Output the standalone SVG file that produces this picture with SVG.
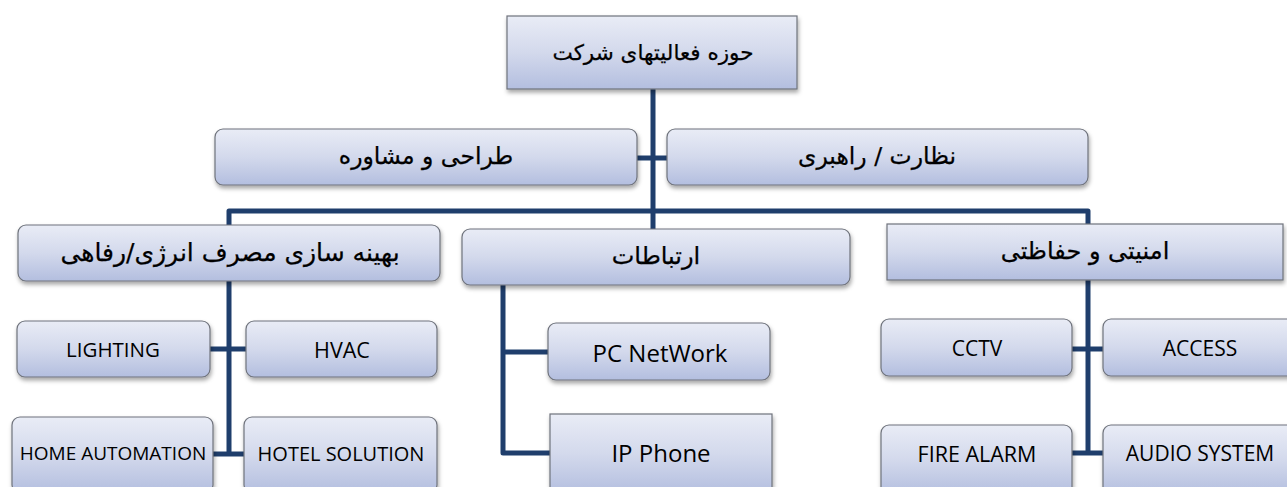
<svg xmlns="http://www.w3.org/2000/svg" width="1287" height="487" viewBox="0 0 1287 487">
<defs>
<linearGradient id="g" x1="0" y1="0" x2="0" y2="1">
<stop offset="0" stop-color="#e9ecf6"/>
<stop offset="0.5" stop-color="#d3d9ec"/>
<stop offset="1" stop-color="#b3bedf"/>
</linearGradient>
<filter id="sh" x="-10%" y="-20%" width="120%" height="160%">
<feDropShadow dx="1" dy="3" stdDeviation="2" flood-color="#000" flood-opacity="0.35"/>
</filter>
</defs>
<style>
.b{fill:url(#g);stroke:#6f737c;stroke-width:1.2;filter:url(#sh)}
.fa{font-family:"DejaVu Sans",sans-serif;fill:#000;stroke:#000;stroke-width:0.25;text-anchor:middle;dominant-baseline:central;direction:rtl}
.en{font-family:"Open Sans","Liberation Sans",sans-serif;fill:#000;text-anchor:middle;dominant-baseline:central}
.c{stroke:#1f3e6c;stroke-width:5;fill:none;stroke-linejoin:round}
</style>
<rect width="1287" height="487" fill="#fff"/>
<g id="connectors">
<path class="c" d="M653 89 V229"/>
<path class="c" d="M637 158 H667"/>
<path class="c" d="M229 229 V211 H1088 V224"/>
<path class="c" d="M229 281 V454"/>
<path class="c" d="M210 349 H246"/>
<path class="c" d="M213 454 H244"/>
<path class="c" d="M503 285 V453 H550"/>
<path class="c" d="M503 352 H548"/>
<path class="c" d="M1088 280 V453"/>
<path class="c" d="M1072 349 H1103"/>
<path class="c" d="M1072 453 H1103"/>
</g>
<g id="root"><rect class="b" x="507" y="16" width="290" height="73"/><text class="fa" x="653" y="52" font-size="21.5">حوزه فعالیتهای شرکت</text></g>
<g id="design"><rect class="b" x="215" y="129" width="422" height="56" rx="8"/><text class="fa" x="426" y="156" font-size="23.5">طراحی و مشاوره</text></g>
<g id="supervision"><rect class="b" x="667" y="129" width="421" height="56" rx="8"/><text class="fa" x="877" y="156" font-size="23.5">نظارت / راهبری</text></g>
<g id="energy"><rect class="b" x="18" y="225" width="422" height="56" rx="8"/><text class="fa" x="230" y="252" font-size="25">بهینه سازی مصرف انرژی/رفاهی</text></g>
<g id="comm"><rect class="b" x="462" y="229" width="388" height="56" rx="8"/><text class="fa" x="656" y="256" font-size="24">ارتباطات</text></g>
<g id="security"><rect class="b" x="887" y="224" width="396" height="56"/><text class="fa" x="1085" y="251" font-size="24">امنیتی و حفاظتی</text></g>
<g id="lighting"><rect class="b" x="17" y="321" width="193" height="56" rx="8"/><text class="en" x="113" y="349" font-size="20.5">LIGHTING</text></g>
<g id="hvac"><rect class="b" x="246" y="321" width="191" height="56" rx="8"/><text class="en" x="342" y="349" font-size="21.5">HVAC</text></g>
<g id="home"><rect class="b" x="12" y="417" width="201" height="76" rx="8"/><text class="en" x="113" y="453" font-size="19">HOME AUTOMATION</text></g>
<g id="hotel"><rect class="b" x="244" y="417" width="193" height="76" rx="8"/><text class="en" x="341" y="453" font-size="20">HOTEL SOLUTION</text></g>
<g id="pcnet"><rect class="b" x="548" y="323" width="222" height="57" rx="8"/><text class="en" x="660" y="352" font-size="24">PC NetWork</text></g>
<g id="ipphone"><rect class="b" x="550" y="414" width="222" height="80"/><text class="en" x="661" y="452" font-size="24">IP Phone</text></g>
<g id="cctv"><rect class="b" x="881" y="319" width="191" height="57" rx="8"/><text class="en" x="977" y="348" font-size="21">CCTV</text></g>
<g id="access"><rect class="b" x="1103" y="319" width="194" height="57" rx="8"/><text class="en" x="1200" y="348" font-size="21">ACCESS</text></g>
<g id="fire"><rect class="b" x="881" y="425" width="191" height="70" rx="8"/><text class="en" x="977" y="453" font-size="21.5">FIRE ALARM</text></g>
<g id="audio"><rect class="b" x="1103" y="425" width="194" height="70" rx="8"/><text class="en" x="1200" y="453" font-size="21">AUDIO SYSTEM</text></g>
</svg>
